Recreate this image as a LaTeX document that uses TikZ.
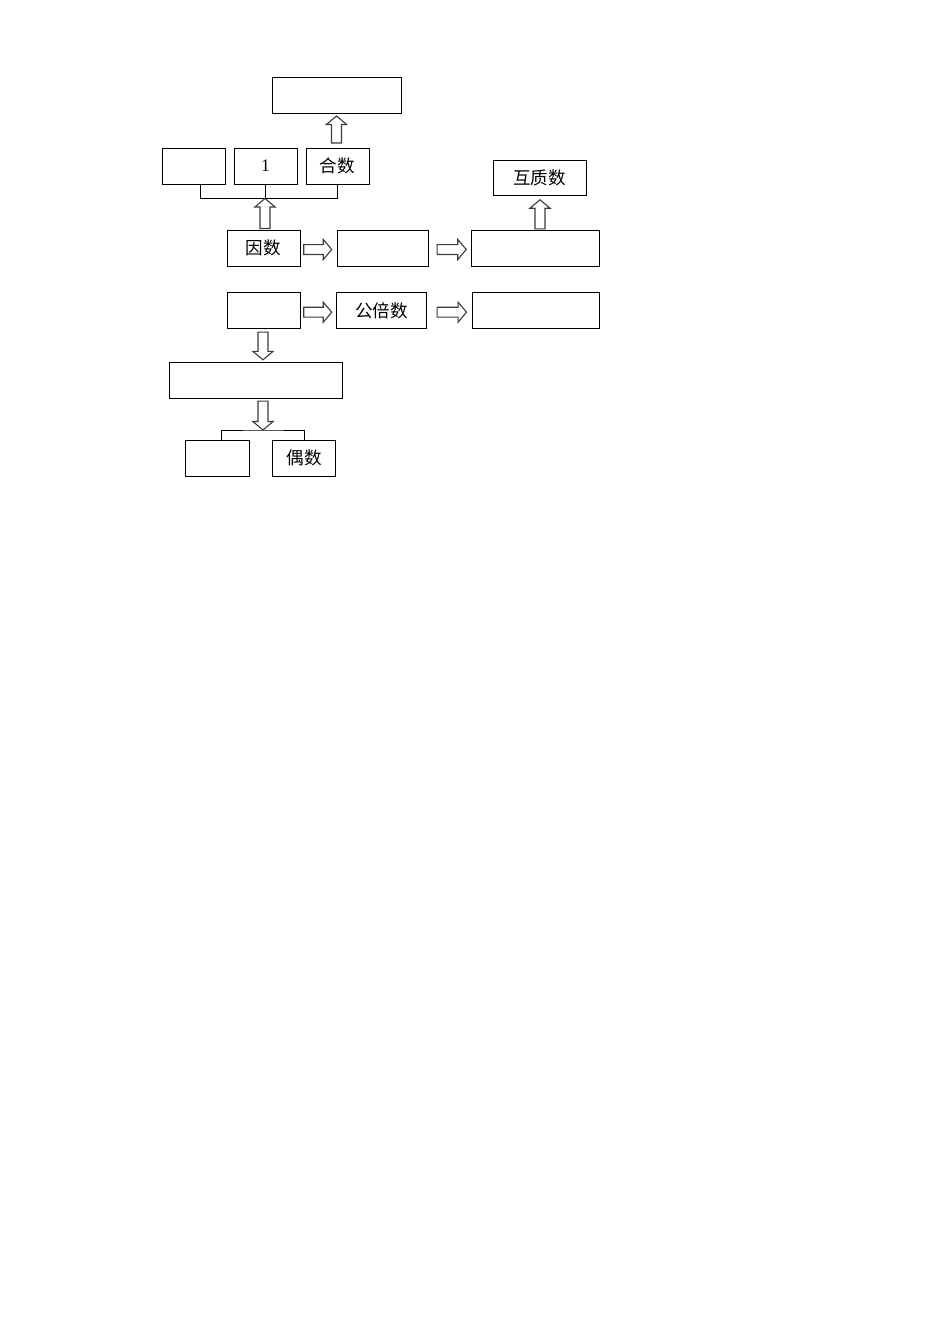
\documentclass[tikz,border=0pt]{standalone}
\usepackage{fontspec}
\setmainfont{Liberation Serif}
\newfontfamily\cjk{Noto Sans CJK SC}
\usepackage{tikz}
\usetikzlibrary{calc}
\definecolor{arrowgray}{RGB}{60,60,60}
\newlength\px
\setlength\px{0.6266pt}

\tikzset{
    box/.style={draw, line width=0.6pt, minimum height=36\px, inner sep=0pt,
        font=\cjk\fontsize{11pt}{13pt}\selectfont},
    link/.style={draw, line width=0.6pt},
    fatarrow/.style={draw=arrowgray, fill=white, line width=0.7pt, line join=miter,
        to path={
            ($(\tikztostart)!3.1pt!90:(\tikztotarget)$)
            -- ($(\tikztostart)!3.1pt!-90:(\tikztotarget)$)
            -- ($(\tikztotarget)!5.3pt!(\tikztostart)+(\tikztostart)!3.1pt!-90:(\tikztotarget)-(\tikztostart)$)
            -- ($(\tikztotarget)!5.3pt!(\tikztostart)+(\tikztostart)!6.3pt!-90:(\tikztotarget)-(\tikztostart)$)
            -- (\tikztotarget)
            -- ($(\tikztotarget)!5.3pt!(\tikztostart)+(\tikztostart)!6.3pt!90:(\tikztotarget)-(\tikztostart)$)
            -- ($(\tikztotarget)!5.3pt!(\tikztostart)+(\tikztostart)!3.1pt!90:(\tikztotarget)-(\tikztostart)$)
            -- cycle}}
}

\begin{document}
\begin{tikzpicture}[x=0.6266pt, y=-0.6266pt]
    \useasboundingbox[fill=white] (0,0) rectangle (950,1344);

    % Top: factor branch
    \node[box, minimum width=129\px] (fenjie) at (336.5,95.5) {};
    \node[box, minimum width=63\px] (zhishu) at (193.5,166) {};
    \node[box, minimum width=63\px, font=\fontsize{11pt}{13pt}\selectfont] (yi) at (265.5,166) {1};
    \node[box, minimum width=63\px] (heshu) at (337.5,166) {合数};
    \node[box, minimum width=92.7\px, minimum height=35\px] (huzhi) at (539.7,178.2) {互质数};

    % Row 1
    \node[box, minimum width=73\px] (yinshu) at (263.5,248) {因数};
    \node[box, minimum width=90.6\px] (gongyin) at (383,248) {};
    \node[box, minimum width=127.6\px] (zuidagy) at (535.5,248) {};

    % Row 2
    \node[box, minimum width=73\px] (beishu) at (263.5,310.7) {};
    \node[box, minimum width=90\px] (gongbei) at (381.7,310.7) {公倍数};
    \node[box, minimum width=127\px] (zuixiaogb) at (535.5,310.7) {};

    % Bottom: multiple branch
    \node[box, minimum width=172.7\px] (tezheng) at (256.3,380.3) {};
    \node[box, minimum width=63.6\px] (jishu) at (217.5,458) {};
    \node[box, minimum width=63.4\px] (oushu) at (304,458) {偶数};

    % Brackets
    \coordinate (brk) at (265,198.5);
    \coordinate (brk2) at (263,430);
    \draw[link] ($(zhishu.south)+(6.5,0)$) |- (brk) -| (heshu.south);
    \draw[link] (yi.south) -- (yi.south |- brk);
    \draw[link] ($(jishu.north)+(4.2,0)$) |- (brk2) -| (oushu.north);

    % Block arrows
    \draw[fatarrow] ($(yinshu.north)+(1.5,-1)$) to (brk);
    \draw[fatarrow] ($(heshu.north)+(-1,-4.5)$) to ($(fenjie.south)+(0,2)$);
    \draw[fatarrow] ($(zuidagy.north)+(4.5,-0.7)$) to ($(huzhi.south)+(0.3,3.6)$);
    \draw[fatarrow] ($(yinshu.east)+(3.3,1.5)$) to ($(gongyin.west)+(-5.5,1.5)$);
    \draw[fatarrow] ($(gongyin.east)+(8.4,1.5)$) to ($(zuidagy.west)+(-5,1.5)$);
    \draw[fatarrow] ($(beishu.east)+(3.3,1.5)$) to ($(gongbei.west)+(-4.5,1.5)$);
    \draw[fatarrow] ($(gongbei.east)+(10,1.5)$) to ($(zuixiaogb.west)+(-5,1.5)$);
    \draw[fatarrow] ($(beishu.south)+(-0.5,3)$) to ($(beishu.south |- tezheng.north)+(-0.5,-2)$);
    \draw[fatarrow] ($(tezheng.south -| brk2)+(0,2.4)$) to (brk2);
\end{tikzpicture}
\end{document}
